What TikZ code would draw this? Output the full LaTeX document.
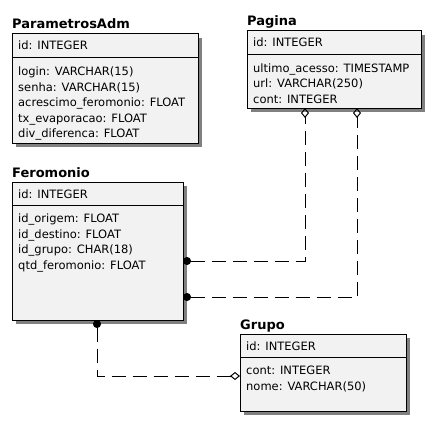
\documentclass[tikz,border=0pt]{standalone}
\usepackage{fontspec}
\setmainfont{DejaVu Sans}
\usepackage{tikz}
\usetikzlibrary{arrows.meta, positioning, calc, shadows}

\definecolor{entityfill}{RGB}{242,242,242}
\definecolor{shadowgray}{RGB}{128,128,128}

\begin{document}
\begin{tikzpicture}[x=1pt, y=-1pt,
    entity/.style={rectangle, draw=black, line width=1pt, fill=entityfill, anchor=north west,
        inner sep=0pt, outer sep=0pt,
        drop shadow={shadow xshift=4pt, shadow yshift=-4pt, fill=shadowgray, opacity=1}},
    title/.style={font=\fontsize{13}{15}\selectfont\bfseries, anchor=base west, inner sep=0pt},
    attr/.style={font=\fontsize{11.5}{14}\selectfont, anchor=base west, inner sep=0pt},
    rel/.style={line width=1pt, dash pattern=on 14pt off 7pt},
    tie/.style={{Circle[length=8pt]}-{Diamond[open, length=10pt, width=8pt]}}]
    \path[use as bounding box] (0,0) rectangle (436,436);

    % ParametrosAdm
    \node[entity, minimum width=186pt, minimum height=109pt] (par) at (12,34) {};
    \node[title] (parTitle) at ($(par.north west)+(0,-5)$) {ParametrosAdm};
    \draw ($(par.north west)+(0,23.5)$) -- ($(par.north east)+(0,23.5)$);
    \node[attr] (parId) at ($(par.north west)+(6,16)$) {id: INTEGER};
    \foreach \txt [count=\i] in {login: VARCHAR(15), senha: VARCHAR(15),
        acrescimo\_feromonio: FLOAT, tx\_evaporacao: FLOAT, div\_diferenca: FLOAT}
        \node[attr] (par-\i) at ($(par.north west)+(6,26+15.5*\i)$) {\txt};

    % Pagina
    \node[entity, minimum width=174pt, minimum height=77pt] (pag) at (247,31) {};
    \node[title] (pagTitle) at ($(pag.north west)+(0,-5)$) {Pagina};
    \draw ($(pag.north west)+(0,23.5)$) -- ($(pag.north east)+(0,23.5)$);
    \node[attr] (pagId) at ($(pag.north west)+(6,16)$) {id: INTEGER};
    \foreach \txt [count=\i] in {ultimo\_acesso: TIMESTAMP, url: VARCHAR(250), cont: INTEGER}
        \node[attr] (pag-\i) at ($(pag.north west)+(6,26+15.5*\i)$) {\txt};

    % Feromonio
    \node[entity, minimum width=171pt, minimum height=138pt] (fer) at (12,182) {};
    \node[title] (ferTitle) at ($(fer.north west)+(0,-5)$) {Feromonio};
    \draw ($(fer.north west)+(0,23.5)$) -- ($(fer.north east)+(0,23.5)$);
    \node[attr] (ferId) at ($(fer.north west)+(6,16)$) {id: INTEGER};
    \foreach \txt [count=\i] in {id\_origem: FLOAT, id\_destino: FLOAT, id\_grupo: CHAR(18),
        qtd\_feromonio: FLOAT}
        \node[attr] (fer-\i) at ($(fer.north west)+(6,25+15.5*\i)$) {\txt};

    % Grupo
    \node[entity, minimum width=166pt, minimum height=77pt] (gru) at (240,334) {};
    \node[title] (gruTitle) at ($(gru.north west)+(0,-5)$) {Grupo};
    \draw ($(gru.north west)+(0,23.5)$) -- ($(gru.north east)+(0,23.5)$);
    \node[attr] (gruId) at ($(gru.north west)+(6,16)$) {id: INTEGER};
    \foreach \txt [count=\i] in {cont: INTEGER, nome: VARCHAR(50)}
        \node[attr] (gru-\i) at ($(gru.north west)+(6,25+15.5*\i)$) {\txt};

    % relations
    \draw[rel, tie] ($(fer.north east)+(0,79)$) -| ($(pag.south west)+(58,0)$);
    \draw[rel, tie] ($(fer.north east)+(0,115)$) -| ($(pag.south west)+(110,0)$);
    \draw[rel, tie] ($(fer.south west)+(85,0)$) |- ($(gru.north west)+(0,42)$);
\end{tikzpicture}
\end{document}
